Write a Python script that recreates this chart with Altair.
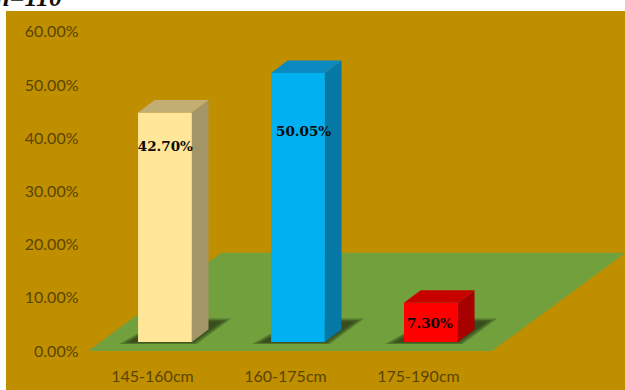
import altair as alt
import pandas as pd

# Chart values
categories = ["145-160cm", "160-175cm", "175-190cm"]
shares = [42.70, 50.05, 7.30]
front_colors = ["#FFE699", "#00B0F0", "#FF0000"]
top_colors = ["#C2AE72", "#0A8AC0", "#C80000"]
side_colors = ["#A39566", "#0578A6", "#A80000"]
y_ticks = [0, 10, 20, 30, 40, 50, 60]

# Canvas layout: plot frame in pixels, and the scale of each axis
LEFT, TOP = 6, 11
WIDTH, HEIGHT = 619, 379
PX_PER_CATEGORY = 133.0
PX_PER_PERCENT = 5.32
FIRST_CATEGORY_PX = 152.0
ZERO_PX = 351.0

x_domain = [(LEFT - FIRST_CATEGORY_PX) / PX_PER_CATEGORY,
            (LEFT + WIDTH - FIRST_CATEGORY_PX) / PX_PER_CATEGORY]
y_domain = [(ZERO_PX - TOP - HEIGHT) / PX_PER_PERCENT,
            (ZERO_PX - TOP) / PX_PER_PERCENT]

# Pseudo-3D geometry, in axis units
BAR_LEFT = -0.105
BAR_RIGHT = 0.30
DEPTH_X = 0.125
DEPTH_Y = 2.35
BAR_BASE = 1.7
BAR_GAIN = 1.01  # bars stand nearer the viewer than the axis, so they read slightly larger
LABEL_X = [0.10, 0.14, 0.09]
LABEL_DROP = [4.4, 8.85, 2.2]

x_scale = alt.Scale(domain=x_domain, range=[0, WIDTH], nice=False, zero=False)
y_scale = alt.Scale(domain=y_domain, range=[HEIGHT, 0], nice=False, zero=False)

X = alt.X("x:Q", scale=x_scale, stack=None, title=None,
          axis=alt.Axis(values=[0, 1, 2], orient="bottom", offset=-22, domain=False, ticks=False,
                        grid=False, zindex=1, labelColor="#5A4500", labelFont="Lato",
                        labelFontSize=16, labelPadding=0,
                        labelExpr=f"{categories}[datum.value]"))
Y = alt.Y("y:Q", scale=y_scale, stack=None, title=None,
          axis=alt.Axis(values=y_ticks, orient="left", offset=-72, domain=False, ticks=False,
                        grid=False, zindex=1, labelColor="#5A4500", labelFont="Lato",
                        labelFontSize=16, labelPadding=0, labelAlign="right",
                        labelExpr="format(datum.value, '.2f') + '%'"))

# One row per polygon corner pair; vertical-sided faces use y/y2, horizontal-sided use x/x2
front_rows, side_rows, top_rows, shadow_rows, label_rows = [], [], [], [], []
for i, (share, fc, tc, sc) in enumerate(zip(shares, front_colors, top_colors, side_colors)):
    xa, xb = i + BAR_LEFT, i + BAR_RIGHT
    top = BAR_BASE + share * BAR_GAIN
    front_rows.append({"x": xa, "x2": xb, "y": BAR_BASE, "y2": top, "c": fc})
    side_rows += [
        {"id": i, "x": xb, "y": BAR_BASE, "y2": top, "c": sc},
        {"id": i, "x": xb + DEPTH_X, "y": BAR_BASE + DEPTH_Y, "y2": top + DEPTH_Y, "c": sc},
    ]
    top_rows += [
        {"id": i, "y": top, "x": xa, "x2": xb, "c": tc},
        {"id": i, "y": top + DEPTH_Y, "x": xa + DEPTH_X, "x2": xb + DEPTH_X, "c": tc},
    ]
    # Contact shadow: three nested sheets give it a soft edge
    for k, grow in enumerate([0.0, 0.035, 0.07]):
        shadow_rows += [
            {"id": f"{i}-{k}", "y": BAR_BASE - 0.1 - grow * 4, "x": xa - 0.07 - grow, "x2": xb + grow * 0.5},
            {"id": f"{i}-{k}", "y": BAR_BASE + DEPTH_Y + 1.5 + grow * 8, "x": xa + 0.2,
             "x2": xb + DEPTH_X + 0.1 + grow},
        ]
    label_rows.append({"x": i + LABEL_X[i], "y": share - LABEL_DROP[i], "t": f"{share:.2f}%"})

floor = pd.DataFrame([
    {"y": 0.0, "x": -0.48, "x2": 2.556},
    {"y": 18.45, "x": 0.52, "x2": 3.56},
])

backdrop = alt.Chart(pd.DataFrame({"x": x_domain[:1], "x2": x_domain[1:]})).mark_rect(
    color="#BF8F00").encode(
    x=X, x2="x2:Q", y=alt.value(0), y2=alt.value(HEIGHT))

floor_layer = alt.Chart(floor).mark_area(orient="horizontal", color="#71A03D").encode(
    x=X, x2="x2:Q", y=Y)

shadow_layer = alt.Chart(pd.DataFrame(shadow_rows)).mark_area(
    orient="horizontal", color="#1E2A10", opacity=0.33).encode(
    x=X, x2="x2:Q", y=Y, detail="id:N")

front_layer = alt.Chart(pd.DataFrame(front_rows)).mark_rect().encode(
    x=X, x2="x2:Q", y=Y, y2="y2:Q", color=alt.Color("c:N", scale=None))

side_layer = alt.Chart(pd.DataFrame(side_rows)).mark_area(orient="vertical").encode(
    x=X, y=Y, y2="y2:Q", detail="id:N", color=alt.Color("c:N", scale=None))

top_layer = alt.Chart(pd.DataFrame(top_rows)).mark_area(orient="horizontal").encode(
    x=X, x2="x2:Q", y=Y, detail="id:N", color=alt.Color("c:N", scale=None))

value_labels = alt.Chart(pd.DataFrame(label_rows)).mark_text(
    font="DejaVu Serif", fontWeight="bold", fontSize=13.5, color="#0A0A0A").encode(
    x=X, y=Y, text="t:N")

sample_note = alt.Chart(pd.DataFrame({"t": ["n=110"]})).mark_text(
    font="Liberation Serif", fontWeight="bold", fontStyle="italic", fontSize=26,
    color="#111111", align="right", baseline="alphabetic").encode(
    x=alt.value(56), y=alt.value(-5), text="t:N")

chart = alt.layer(
    backdrop, floor_layer, shadow_layer, front_layer, side_layer, top_layer,
    value_labels, sample_note,
).properties(
    width=WIDTH, height=HEIGHT,
    padding={"left": LEFT, "top": TOP, "right": 0, "bottom": 0},
    autosize=alt.AutoSizeParams(type="none"),
    background="white",
).configure_view(stroke=None)

chart.save("out.html", embed_options={"renderer": "svg", "actions": False})
